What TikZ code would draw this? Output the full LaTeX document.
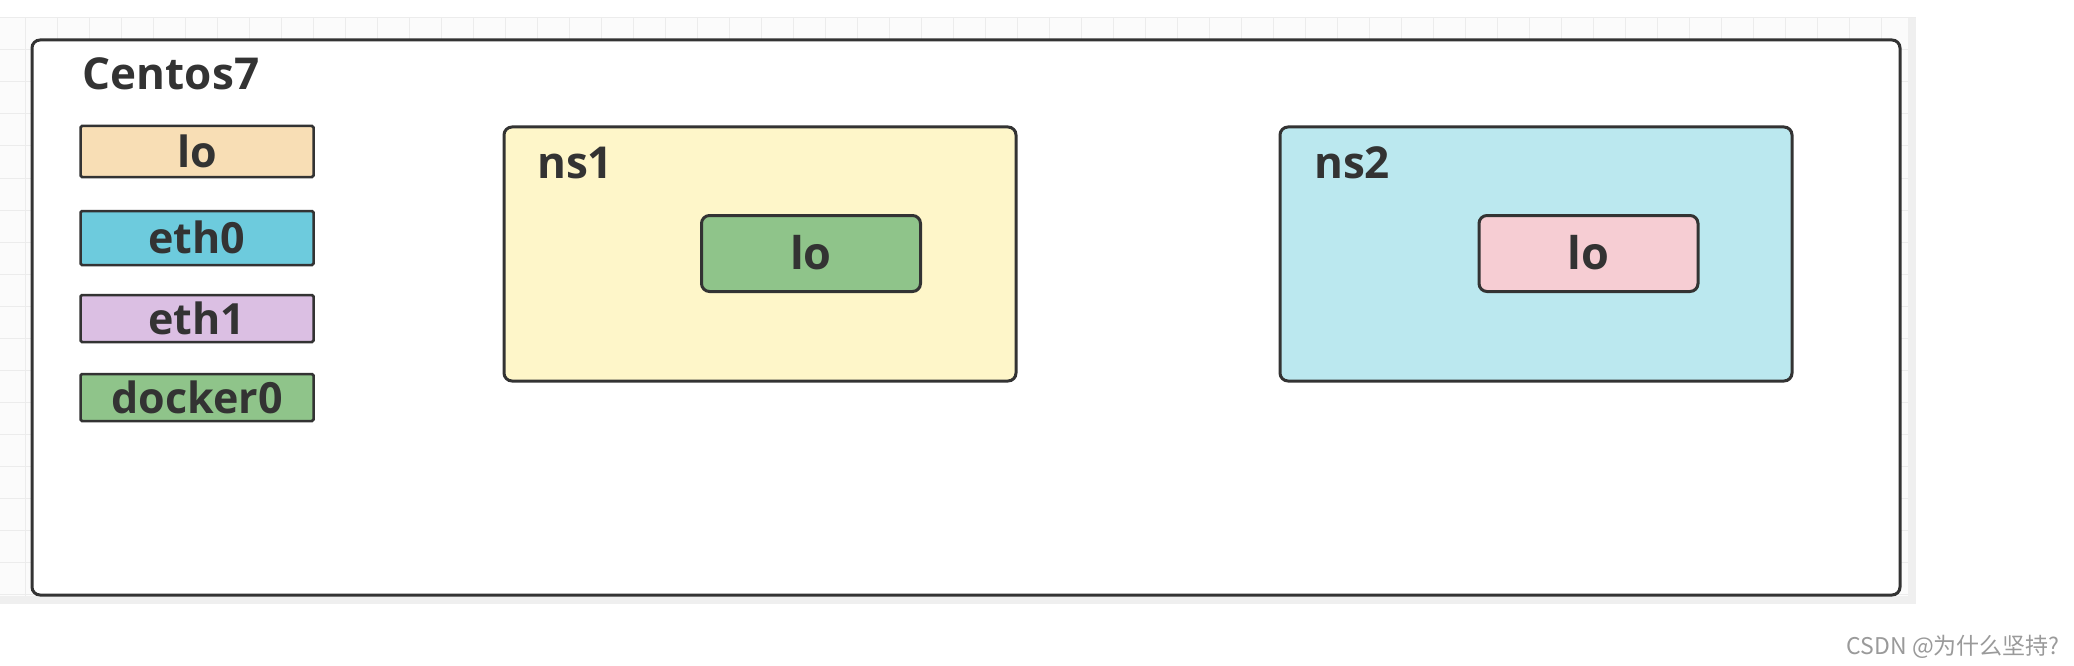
\documentclass[tikz,border=0pt]{standalone}
\usepackage{fontspec}
\setmainfont{Open Sans}
\newfontfamily\cjkfont{Noto Sans CJK SC}
\definecolor{ink}{HTML}{333333}
\definecolor{gridln}{HTML}{ECECEC}
\definecolor{gridbg}{HTML}{FBFBFB}
\definecolor{strip}{HTML}{EFEFEF}
\definecolor{cLo}{HTML}{F8DEB5}
\definecolor{cEthA}{HTML}{6DCBDD}
\definecolor{cEthB}{HTML}{DBBFE3}
\definecolor{cDock}{HTML}{8FC48A}
\definecolor{cNsA}{HTML}{FEF6C9}
\definecolor{cNsB}{HTML}{BBE8EF}
\definecolor{cPink}{HTML}{F6CDD3}
\definecolor{wm}{HTML}{9A9A9A}
\tikzset{
  lbl/.style={font=\fontsize{44}{50}\selectfont\bfseries, text=ink, inner sep=0pt},
  ifbox/.style={draw=ink, line width=2.5pt, rounded corners=1.5pt, minimum width=233pt, inner sep=0pt,
    font=\fontsize{43}{50}\selectfont\bfseries, text=ink, text height=31pt, text depth=0pt},
  nsbox/.style={draw=ink, line width=3pt, rounded corners=8pt, inner sep=0pt},
  lobox/.style={draw=ink, line width=3pt, rounded corners=8pt, minimum width=219pt, minimum height=76pt, inner sep=0pt,
    font=\fontsize{45}{50}\selectfont\bfseries, text=ink, text height=32pt, text depth=0pt},
}
\begin{document}
\begin{tikzpicture}[x=1pt,y=-1pt]
\useasboundingbox (0,0) rectangle (2074,666);
\fill[white] (0,0) rectangle (2074,666);
% grid background
\fill[gridbg] (0,18) rectangle (1916,604);
\foreach \gx in {25,57,...,1900} \draw[gridln, line width=1pt] (\gx,18) -- (\gx,596);
\foreach \gy in {18,50,...,596} \draw[gridln, line width=1pt] (0,\gy) -- (1916,\gy);
\fill[strip] (0,596) rectangle (1916,604);
\fill[strip] (1908,18) rectangle (1916,604);
% outer host
\node[draw=ink, line width=3pt, rounded corners=8pt, fill=white, inner sep=0pt,
  minimum width=1868pt, minimum height=555pt] (host) at (966,317.5) {};
\node[lbl, anchor=base] (hostlbl) at (171,90) {Centos7};
% host interfaces
\node[ifbox, fill=cLo, minimum height=51pt] (hlo) at (197,151.5) {lo};
\node[ifbox, fill=cEthA, minimum height=54pt] (heth0) at (197,238) {eth0};
\node[ifbox, fill=cEthB, minimum height=47pt] (heth1) at (197,318.5) {eth1};
\node[ifbox, fill=cDock, minimum height=47pt] (hdock) at (197,397.5) {docker0};
% ns1
\node[nsbox, fill=cNsA, minimum width=512pt, minimum height=254pt] (ns1) at (760,254) {};
\node[lbl, anchor=base west] (ns1lbl) at (537,178) {ns1};
\node[lobox, fill=cDock] (ns1lo) at (811,253.5) {lo};
% ns2
\node[nsbox, fill=cNsB, minimum width=512pt, minimum height=254pt] (ns2) at (1536,254) {};
\node[lbl, anchor=base west] (ns2lbl) at (1314,178) {ns2};
\node[lobox, fill=cPink] (ns2lo) at (1588.5,253.5) {lo};
% watermark
\node[anchor=east, inner sep=0pt, text=wm, font=\cjkfont\fontsize{23}{26}\selectfont] (wmark) at (2060,647) {CSDN @为什么坚持?};
\end{tikzpicture}
\end{document}
